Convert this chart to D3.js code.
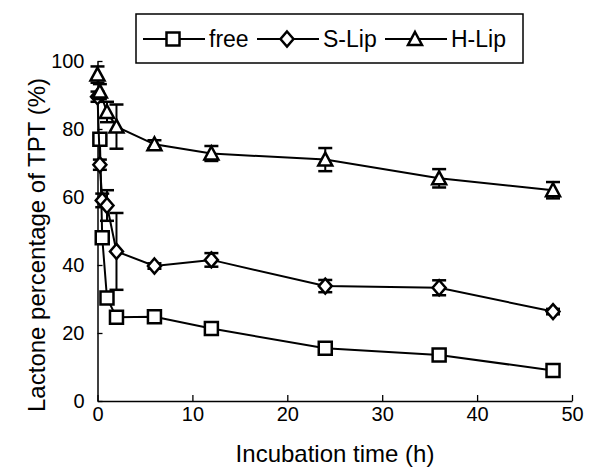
<!DOCTYPE html>
<html>
<head>
<meta charset="utf-8">
<script src="https://cdn.jsdelivr.net/npm/d3@7"></script>
<style>
  body { margin: 0; background: #fff; }
  svg { display: block; }
  text { font-family: "Liberation Sans", Arial, sans-serif; fill: #000; }
</style>
</head>
<body>
<div id="chart"></div>
<script>
// data
var xTicks = [0, 10, 20, 30, 40, 50];
var yTicks = [0, 20, 40, 60, 80, 100];

var freeTime = [0.25, 0.5, 1, 2, 6, 12, 24, 36, 48];
var freeVal  = [77, 48, 30.3, 24.6, 24.8, 21.3, 15.5, 13.5, 9];
var freeErr  = [1, 1, 1, 1, 0.8, 0.8, 0.8, 0.8, 0.8];

var sTime = [0, 0.25, 0.5, 1, 2, 6, 12, 24, 36, 48];
var sVal  = [89.5, 69.5, 59, 57.5, 44, 39.7, 41.5, 33.8, 33.3, 26.3];
var sErr  = [1.5, 1.5, 2, 4.5, 11.3, 0.8, 2, 1.8, 2.2, 0.8];

var hTime = [0, 0.25, 1, 2, 6, 12, 24, 36, 48];
var hVal  = [96, 91, 85, 80.7, 75.5, 72.8, 71, 65.5, 62];
var hErr  = [2.4, 2.2, 3, 6.5, 1.2, 2.2, 3.4, 2.7, 2.4];

var seriesNames = ["free", "S-Lip", "H-Lip"];
var seriesShapes = ["square", "diamond", "triangle"];

var W = 595, H = 468;

var svg = d3.select("#chart")
    .append("svg")
    .attr("width", W)
    .attr("height", H);

var x = d3.scaleLinear().domain([0, 50]).range([97.5, 572]);
var y = d3.scaleLinear().domain([0, 100]).range([401, 61]);

// marker path centred at 0,0
function shapePath(kind) {
  if (kind === "square") return "M-6.5,-6.5H6.5V6.5H-6.5Z";
  if (kind === "diamond") return "M0,-7.5L6.5,0L0,7.5L-6.5,0Z";
  return "M0,-7L7,6H-7Z";
}

var xAxis = d3.axisBottom(x)
    .tickValues(xTicks)
    .tickSizeInner(-6)
    .tickSizeOuter(0)
    .tickPadding(6);

var yAxis = d3.axisLeft(y)
    .tickValues(yTicks)
    .tickSizeInner(-5)
    .tickSizeOuter(0)
    .tickPadding(13);

var gx = svg.append("g")
    .attr("transform", "translate(0," + y(0) + ")")
    .call(xAxis);
var gy = svg.append("g")
    .attr("transform", "translate(" + x(0) + ",0)")
    .call(yAxis);

[gx, gy].forEach(function(g) {
  g.select(".domain").attr("stroke", "#000").attr("stroke-width", 1.5);
  g.selectAll(".tick line").attr("stroke", "#000").attr("stroke-width", 1.3);
  g.selectAll(".tick text").style("font-size", "20px").attr("fill", "#000");
});

// axis titles
svg.append("text")
    .attr("x", 335)
    .attr("y", 462)
    .style("text-anchor", "middle")
    .style("font-size", "24px")
    .text("Incubation time (h)");

svg.append("text")
    .attr("transform", "translate(45,245) rotate(-90)")
    .style("text-anchor", "middle")
    .style("font-size", "24px")
    .text("Lactone percentage of TPT (%)");

// series
var series = [
  {t: freeTime, v: freeVal, e: freeErr},
  {t: sTime, v: sVal, e: sErr},
  {t: hTime, v: hVal, e: hErr}
];

var line = d3.line()
    .x(function(d) { return x(d.t); })
    .y(function(d) { return y(d.v); });

series.forEach(function(s, i) {
  var pts = s.t.map(function(t, j) { return {t: t, v: s.v[j], e: s.e[j]}; });
  var g = svg.append("g");

  g.append("path")
      .datum(pts)
      .attr("d", line)
      .attr("fill", "none")
      .attr("stroke", "#000")
      .attr("stroke-width", 2);

  var eb = g.selectAll(".err")
      .data(pts)
    .enter().append("g");
  eb.append("line")
      .attr("x1", function(d) { return x(d.t); })
      .attr("x2", function(d) { return x(d.t); })
      .attr("y1", function(d) { return y(d.v + d.e); })
      .attr("y2", function(d) { return y(d.v - d.e); })
      .attr("stroke", "#000").attr("stroke-width", 2);
  [1, -1].forEach(function(sign) {
    eb.append("line")
        .attr("x1", function(d) { return x(d.t) - 7; })
        .attr("x2", function(d) { return x(d.t) + 7; })
        .attr("y1", function(d) { return y(d.v + sign * d.e); })
        .attr("y2", function(d) { return y(d.v + sign * d.e); })
        .attr("stroke", "#000").attr("stroke-width", 2.5);
  });

  g.selectAll(".mark")
      .data(pts)
    .enter().append("path")
      .attr("transform", function(d) { return "translate(" + x(d.t) + "," + y(d.v) + ")"; })
      .attr("d", shapePath(seriesShapes[i]))
      .attr("fill", "#fff")
      .attr("stroke", "#000")
      .attr("stroke-width", 2.5);
});

// legend
var lg = svg.append("g");
lg.append("rect")
    .attr("x", 136).attr("y", 14)
    .attr("width", 387).attr("height", 49)
    .attr("fill", "#fff")
    .attr("stroke", "#000")
    .attr("stroke-width", 1.5);

var legX = [143, 257, 385];
seriesNames.forEach(function(name, i) {
  var x0 = legX[i];
  lg.append("line")
      .attr("x1", x0).attr("x2", x0 + 62)
      .attr("y1", 39).attr("y2", 39)
      .attr("stroke", "#000").attr("stroke-width", 2);
  lg.append("path")
      .attr("transform", "translate(" + (x0 + 30) + ",39)")
      .attr("d", shapePath(seriesShapes[i]))
      .attr("fill", "#fff")
      .attr("stroke", "#000")
      .attr("stroke-width", 2.5);
  lg.append("text")
      .attr("x", x0 + 66)
      .attr("y", 47)
      .style("font-size", "23px")
      .text(name);
});
</script>
</body>
</html>
